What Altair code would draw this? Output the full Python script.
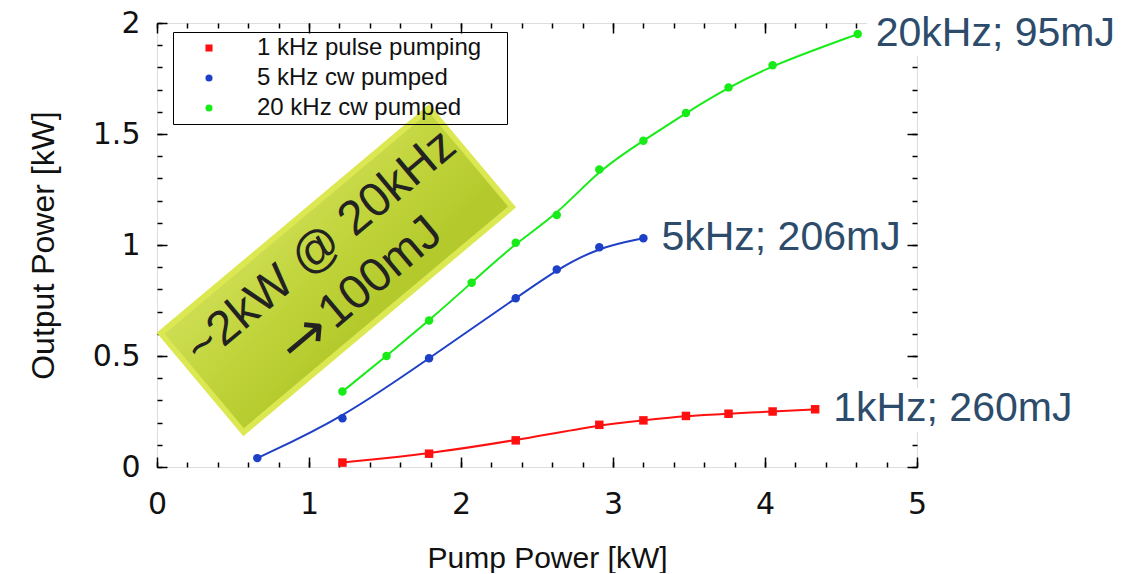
import altair as alt
import pandas as pd

# ---------------- data ----------------
series_names = ["1 kHz pulse pumping", "5 kHz cw pumped", "20 kHz cw pumped"]
series_colors = ["#ff1010", "#1e40c6", "#18ec18"]
series_shapes = ["square", "circle", "circle"]

red_x = [1.22, 1.79, 2.36, 2.91, 3.20, 3.48, 3.76, 4.05, 4.33]
red_y = [0.02, 0.06, 0.12, 0.19, 0.21, 0.23, 0.24, 0.25, 0.26]

blue_x = [0.66, 1.22, 1.79, 2.36, 2.63, 2.91, 3.20]
blue_y = [0.04, 0.22, 0.49, 0.76, 0.89, 0.99, 1.03]

green_x = [1.22, 1.51, 1.79, 2.07, 2.36, 2.63, 2.91, 3.20, 3.48, 3.76, 4.05, 4.61]
green_y = [0.34, 0.50, 0.66, 0.83, 1.01, 1.135, 1.34, 1.47, 1.595, 1.71, 1.81, 1.95]

end_labels = ["1kHz; 260mJ", "5kHz; 206mJ", "20kHz; 95mJ"]

box_line1 = ["~2kW @ 20kHz"]
box_arrow = ["\u2192"]
box_line2 = ["100mJ"]
box_x = [1.18]
box_y = [0.887]

x_major = [0, 1, 2, 3, 4, 5]
x_minor = [round(0.2 * i, 1) for i in range(26)]
y_major = [0, 0.5, 1, 1.5, 2]
y_minor = [round(0.1 * i, 1) for i in range(21)]

# ---------------- tables ----------------
rows = []
for name, xs_, ys_ in zip(series_names, [red_x, blue_x, green_x], [red_y, blue_y, green_y]):
    for xv, yv in zip(xs_, ys_):
        rows.append({"series": name, "x": xv, "y": yv})
df = pd.DataFrame(rows)

lab_df = pd.DataFrame({
    "series": series_names,
    "label": end_labels,
    "x": [red_x[-1], blue_x[-1], green_x[-1]],
    "y": [red_y[-1], blue_y[-1], green_y[-1]],
})
box_df = pd.DataFrame({"x": box_x, "y": box_y, "t1": box_line1,
                       "ta": box_arrow, "t2": box_line2})

W, H = 760, 444
FONT = "Liberation Sans"
TICKFONT = "DejaVu Sans"

xs = alt.Scale(domain=[0, 5], nice=False, zero=False)
ys = alt.Scale(domain=[0, 2], nice=False, zero=False)


def tick_axis(orient, offset, values, size):
    return alt.Axis(orient=orient, offset=offset, values=values, labels=False,
                    domain=False, grid=False, ticks=True, tickSize=size,
                    tickWidth=1.5, tickColor="black", title=None)


x_label_axis = alt.Axis(orient="bottom", values=x_major, format="~g", ticks=False,
                        tickSize=0, domain=False, grid=False, labelFlush=False,
                        labelFont=TICKFONT, labelFontSize=30, labelColor="#111",
                        labelPadding=22, title="Pump Power [kW]", titleFont=FONT,
                        titleFontSize=30, titleFontWeight="normal", titleColor="#111",
                        titleBaseline="alphabetic", titleX=390, titleY=100)
y_label_axis = alt.Axis(orient="left", values=y_major, format="~g", ticks=False,
                        tickSize=0, domain=False, grid=False, labelFlush=False,
                        labelFont=TICKFONT, labelFontSize=30, labelColor="#111",
                        labelPadding=17, title="Output Power [kW]", titleFont=FONT,
                        titleFontSize=32, titleFontWeight="normal", titleColor="#111",
                        titleAngle=270, titleBaseline="alphabetic", titleAlign="center",
                        titleX=-104, titleY=H / 2)

color_scale = alt.Scale(domain=series_names, range=series_colors)
shape_scale = alt.Scale(domain=series_names, range=series_shapes)
# same mapping listed in another order, so that the line colours keep a scale
# (and a legend) of their own, which is switched off
stroke_scale = alt.Scale(domain=series_names[::-1], range=series_colors[::-1])

outer_path = "M-1,-0.379L1,-0.379L1,0.379L-1,0.379Z"
inner_path = "M-1,-0.357L1,-0.357L1,0.357L-1,0.357Z"

# bevel (outer) of the annotation box
box_outer = alt.Chart(box_df).mark_point(
    shape=outer_path, size=356 * 356, angle=320, filled=True, opacity=1,
    fill="#dbe852"
).encode(
    x=alt.X("x:Q", scale=xs, axis=x_label_axis),
    y=alt.Y("y:Q", scale=ys, axis=y_label_axis),
)

grad = alt.LinearGradient(
    gradient="linear",
    stops=[alt.GradientStop(color="#cddd52", offset=0),
           alt.GradientStop(color="#c0d43a", offset=0.5),
           alt.GradientStop(color="#b4ca2c", offset=1)],
    x1=0, x2=0.3, y1=0, y2=1,
)
box_inner = alt.Chart(box_df).mark_point(
    shape=inner_path, size=345 * 345, angle=320, filled=True, opacity=1, fill=grad
).encode(
    x=alt.X("x:Q", scale=xs, axis=tick_axis("top", -H, x_major, 10)),
    y=alt.Y("y:Q", scale=ys, axis=tick_axis("right", -W, y_major, 10)),
)

lines = alt.Chart(df).mark_line(strokeWidth=2, interpolate="basis").encode(
    x=alt.X("x:Q", scale=xs, axis=tick_axis("top", -H, x_minor, 5)),
    y=alt.Y("y:Q", scale=ys, axis=tick_axis("right", -W, y_minor, 5)),
    stroke=alt.Stroke("series:N", scale=stroke_scale, legend=None),
    detail="series:N",
)

legend_cfg = dict(title="\u00a0", titleOrient="right", titlePadding=22,
                  titleFontSize=2, orient="none", legendX=16, legendY=9,
                  strokeColor="black", padding=4, rowPadding=6,
                  symbolOffset=20, labelOffset=36, symbolSize=50,
                  labelFont=FONT, labelFontSize=24, labelColor="#111",
                  labelLimit=500)

points = alt.Chart(df).mark_point(filled=True, opacity=1, size=72).encode(
    x=alt.X("x:Q", scale=xs, axis=tick_axis("bottom", -H, x_major, 10)),
    y=alt.Y("y:Q", scale=ys, axis=tick_axis("left", -W, y_major, 10)),
    color=alt.Color("series:N", scale=color_scale, legend=alt.Legend(**legend_cfg)),
    shape=alt.Shape("series:N", scale=shape_scale, legend=alt.Legend(**legend_cfg)),
)

box_text1 = alt.Chart(box_df).mark_text(
    angle=320, fontSize=48, align="center", baseline="middle", dx=3, dy=-27,
    font=FONT, color="#222"
).encode(
    x=alt.X("x:Q", scale=xs, axis=tick_axis("bottom", -H, x_minor, 5)),
    y=alt.Y("y:Q", scale=ys, axis=tick_axis("left", -W, y_minor, 5)),
    text="t1:N",
)
box_text_arrow = alt.Chart(box_df).mark_text(
    angle=320, fontSize=58, align="right", baseline="middle", dx=-44, dy=33,
    font="DejaVu Sans", color="#222"
).encode(
    x=alt.X("x:Q", scale=xs, axis=None),
    y=alt.Y("y:Q", scale=ys, axis=None),
    text="ta:N",
)
box_text2 = alt.Chart(box_df).mark_text(
    angle=320, fontSize=48, align="left", baseline="middle", dx=-40, dy=31,
    font=FONT, color="#222"
).encode(
    x=alt.X("x:Q", scale=xs, axis=None),
    y=alt.Y("y:Q", scale=ys, axis=None),
    text="t2:N",
)

halo = alt.Chart(lab_df).transform_filter(
    alt.datum.series != "5 kHz cw pumped"
).mark_text(
    align="left", baseline="middle", dx=18, fontSize=41, font=FONT,
    stroke="white", strokeWidth=22, strokeJoin="round", color="white"
).encode(
    x=alt.X("x:Q", scale=xs, axis=None),
    y=alt.Y("y:Q", scale=ys, axis=None),
    text="label:N",
)

end_text = alt.Chart(lab_df).mark_text(
    align="left", baseline="middle", dx=18, fontSize=41, font=FONT, color="#2d4c6c"
).encode(
    x=alt.X("x:Q", scale=xs, axis=None),
    y=alt.Y("y:Q", scale=ys, axis=None),
    text="label:N",
)

chart = alt.layer(
    box_outer, box_inner, lines, points, box_text1, box_text_arrow, box_text2,
    halo, end_text
).resolve_axis(
    x="independent", y="independent"
).properties(
    width=W, height=H,
    autosize=alt.AutoSizeParams(type="none"),
    padding={"left": 149, "top": 15, "right": 206, "bottom": 106},
).configure_view(
    stroke="black", strokeWidth=2
).configure(background="white")

chart.save("out.html", embed_options={"renderer": "svg", "actions": False})
